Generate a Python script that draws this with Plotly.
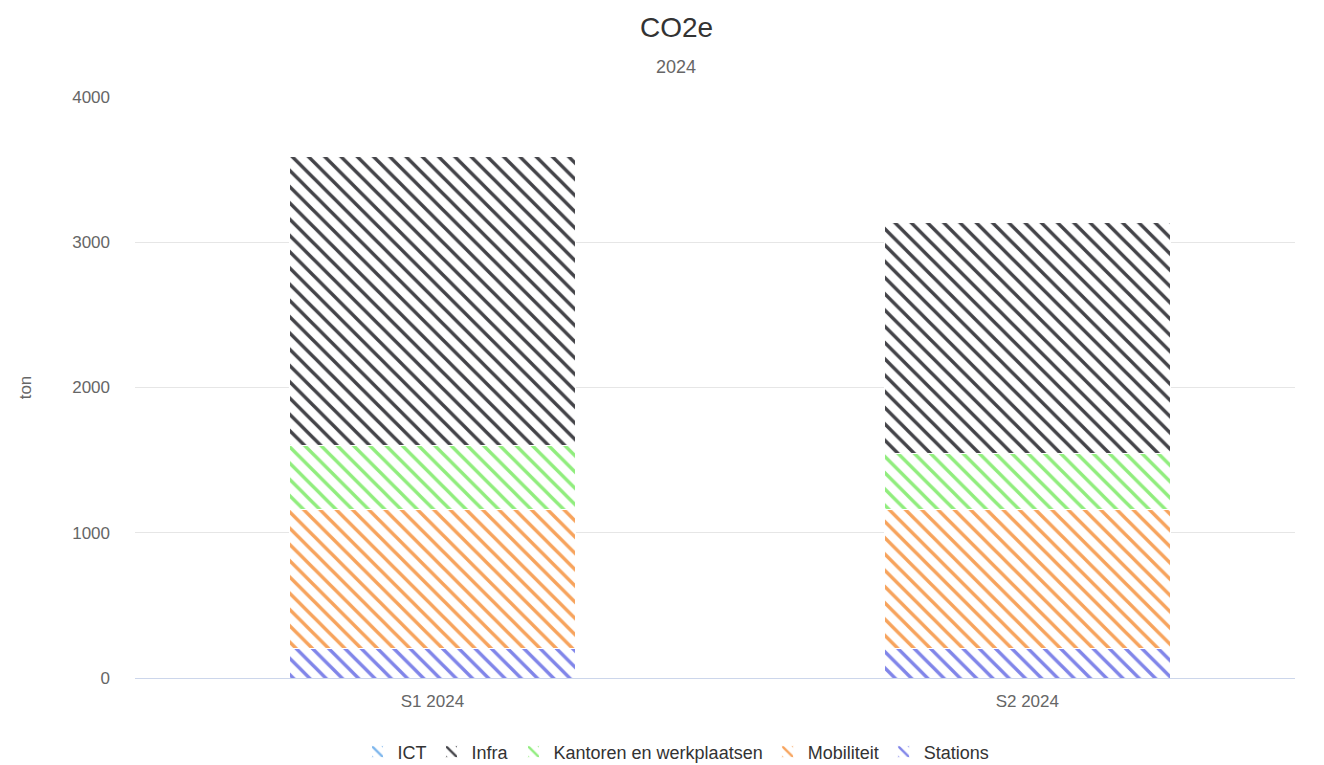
import plotly.graph_objects as go

# Half-year periods and emissions per category (ton CO2e)
periods = ["S1 2024", "S2 2024"]
ict = [1, 1]
infra = [1985, 1588]
kantoren = [441, 386]
mobiliteit = [957, 955]
stations = [206, 206]

series = [
    ("ICT", ict, "#7cb5ec"),
    ("Infra", infra, "#434348"),
    ("Kantoren en werkplaatsen", kantoren, "#90ed7d"),
    ("Mobiliteit", mobiliteit, "#f7a35c"),
    ("Stations", stations, "#8085e9"),
]

FONT = "Liberation Sans, Arial, sans-serif"
PLOT_H = 581  # plot area height in px, used to place the headings

fig = go.Figure()
# first series sits on top of the stack, so add them bottom-up
for rank, (name, vals, col) in reversed(list(enumerate(series))):
    fig.add_trace(go.Bar(
        x=periods, y=vals, name=name, legendrank=rank + 1,
        width=0.48,
        marker=dict(
            color="white",
            line=dict(color="white", width=1),
            pattern=dict(shape="\\", fgcolor=col, bgcolor="white",
                         size=11.5, solidity=0.3, fillmode="replace"),
        ),
    ))

fig.update_layout(
    barmode="stack",
    width=1324, height=765,
    paper_bgcolor="white", plot_bgcolor="white",
    margin=dict(l=135, r=29, t=97, b=87, autoexpand=False),
    font=dict(family=FONT, color="#333333"),
    showlegend=True,
    legend=dict(orientation="h", traceorder="normal",
                x=0.4664, xanchor="center", y=(678 - 752) / PLOT_H,
                yanchor="middle", font=dict(size=18, color="#333333"),
                itemwidth=30, tracegroupgap=0),
    annotations=[
        dict(text="CO2e", xref="paper", yref="paper", x=0.4664, y=1 + (97 - 28) / PLOT_H,
             showarrow=False, font=dict(size=28, color="#333333"), yanchor="middle"),
        dict(text="2024", xref="paper", yref="paper", x=0.4664, y=1 + (97 - 67) / PLOT_H,
             showarrow=False, font=dict(size=18, color="#666666"), yanchor="middle"),
    ],
)

fig.update_yaxes(
    range=[0, 4000], tickvals=[0, 1000, 2000, 3000, 4000],
    automargin=False,
    showgrid=True, gridcolor="#e6e6e6", gridwidth=1,
    zeroline=False, showline=False,
    ticks="", ticklabelstandoff=24,
    tickfont=dict(size=17, color="#666666"),
    title=dict(text="ton", font=dict(size=17, color="#666666"), standoff=36),
)
fig.update_xaxes(
    range=[-0.5, 1.45], automargin=False,
    showgrid=False, showline=True, linecolor="#ccd6eb", linewidth=1,
    ticks="", ticklabelstandoff=8, tickfont=dict(size=17, color="#666666"),
)

fig.write_html("out.html")
